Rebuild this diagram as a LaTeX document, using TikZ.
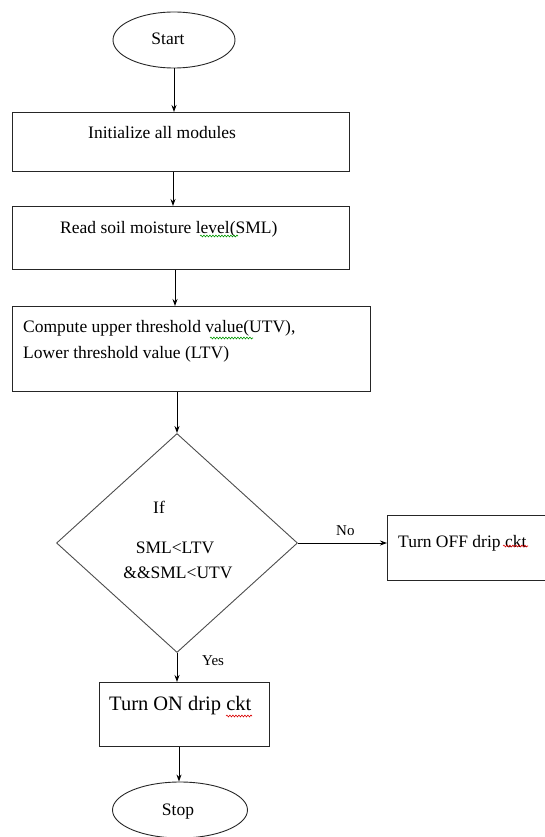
\documentclass[tikz,border=0pt]{standalone}
\usepackage{fontspec}
\setmainfont{Liberation Serif}
\usetikzlibrary{arrows.meta,shapes.geometric,decorations.pathmorphing}
\begin{document}
\begin{tikzpicture}[x=1pt,y=-1pt,
  boxst/.style={draw=black!85,line width=1.1pt,rectangle,inner sep=0pt,anchor=north west},
  ovalst/.style={draw=black!85,line width=0.9pt,ellipse,inner sep=0pt},
  decst/.style={draw=black!70,line width=0.9pt,diamond,inner sep=0pt,minimum width=241pt,minimum height=219pt},
  flow/.style={draw=black,line width=0.9pt,-{Stealth[length=7pt,width=5pt]}},
  txt/.style={inner sep=0pt,anchor=base west,font=\fontsize{17.5}{20}\selectfont},
  ctxt/.style={inner sep=0pt,anchor=base,font=\fontsize{17.5}{20}\selectfont},
  small/.style={inner sep=0pt,anchor=base west,font=\fontsize{15}{18}\selectfont},
  squig/.style={line width=0.6pt,decorate,decoration={snake,amplitude=0.9pt,segment length=3pt}}
]
\useasboundingbox (0,0) rectangle (545,837);
% shapes
\node[ovalst,minimum width=122pt,minimum height=56pt] (start) at (174,40) {};
\node[boxst,minimum width=337pt,minimum height=59pt] (b1) at (12,112) {};
\node[boxst,minimum width=337pt,minimum height=63pt] (b2) at (12,206) {};
\node[boxst,minimum width=358pt,minimum height=85pt] (b3) at (12,306) {};
\node[decst] (dec) at (177,543) {};
\node[boxst,minimum width=170pt,minimum height=65pt] (b4) at (387,515) {};
\node[boxst,minimum width=170pt,minimum height=64pt] (b5) at (99,682) {};
\node[ovalst,minimum width=135pt,minimum height=56pt] (stop) at (180,810) {};
% texts
\node[ctxt] (tstart) at (168,45) {Start};
\node[txt] (t1) at (88,139) {Initialize all modules};
\node[txt] (t2) at (60,233) {Read soil moisture level(SML)};
\node[txt] (t3a) at (23,332) {Compute upper threshold value(UTV),};
\node[txt] (t3b) at (23,358) {Lower threshold value (LTV)};
\node[txt] (tif) at (153,513) {If};
\node[ctxt] (tc1) at (175,553) {SML<LTV};
\node[ctxt] (tc2) at (178,578) {\&\&SML<UTV};
\node[small] (tno) at (336,535) {No};
\node[txt] (t4) at (398,547) {Turn OFF drip ckt};
\node[small] (tyes) at (202,665) {Yes};
\node[txt,font=\fontsize{20.5}{24}\selectfont] (t5) at (109,710) {Turn ON drip ckt};
\node[ctxt] (tstop) at (178,815) {Stop};
% spell-check underlines
\coordinate (s1a) at (200,236); \coordinate (s1b) at (238,236);
\coordinate (s2a) at (210,338); \coordinate (s2b) at (253,338);
\coordinate (s3a) at (503,546); \coordinate (s3b) at (528,546);
\coordinate (s4a) at (226,716); \coordinate (s4b) at (252,716);
\draw[squig,draw=green!60!black] (s1a) -- (s1b);
\draw[squig,draw=green!60!black] (s2a) -- (s2b);
\draw[squig,draw=red!85!black] (s3a) -- (s3b);
\draw[squig,draw=red!85!black] (s4a) -- (s4b);
% connectors
\draw[flow] (start.south) -- (start.south |- b1.north);
\draw[flow] (b1.south -| 173,0) -- (173,0 |- b2.north);
\draw[flow] (b2.south -| 175,0) -- (175,0 |- b3.north);
\draw[flow] (b3.south -| dec.north) -- (dec.north);
\draw[flow] (dec.east) -- (dec.east -| b4.west);
\draw[flow] (dec.south) -- (dec.south |- b5.north);
\draw[flow] (b5.south -| 179,0) -- (179,0 |- stop.north);
\end{tikzpicture}
\end{document}
